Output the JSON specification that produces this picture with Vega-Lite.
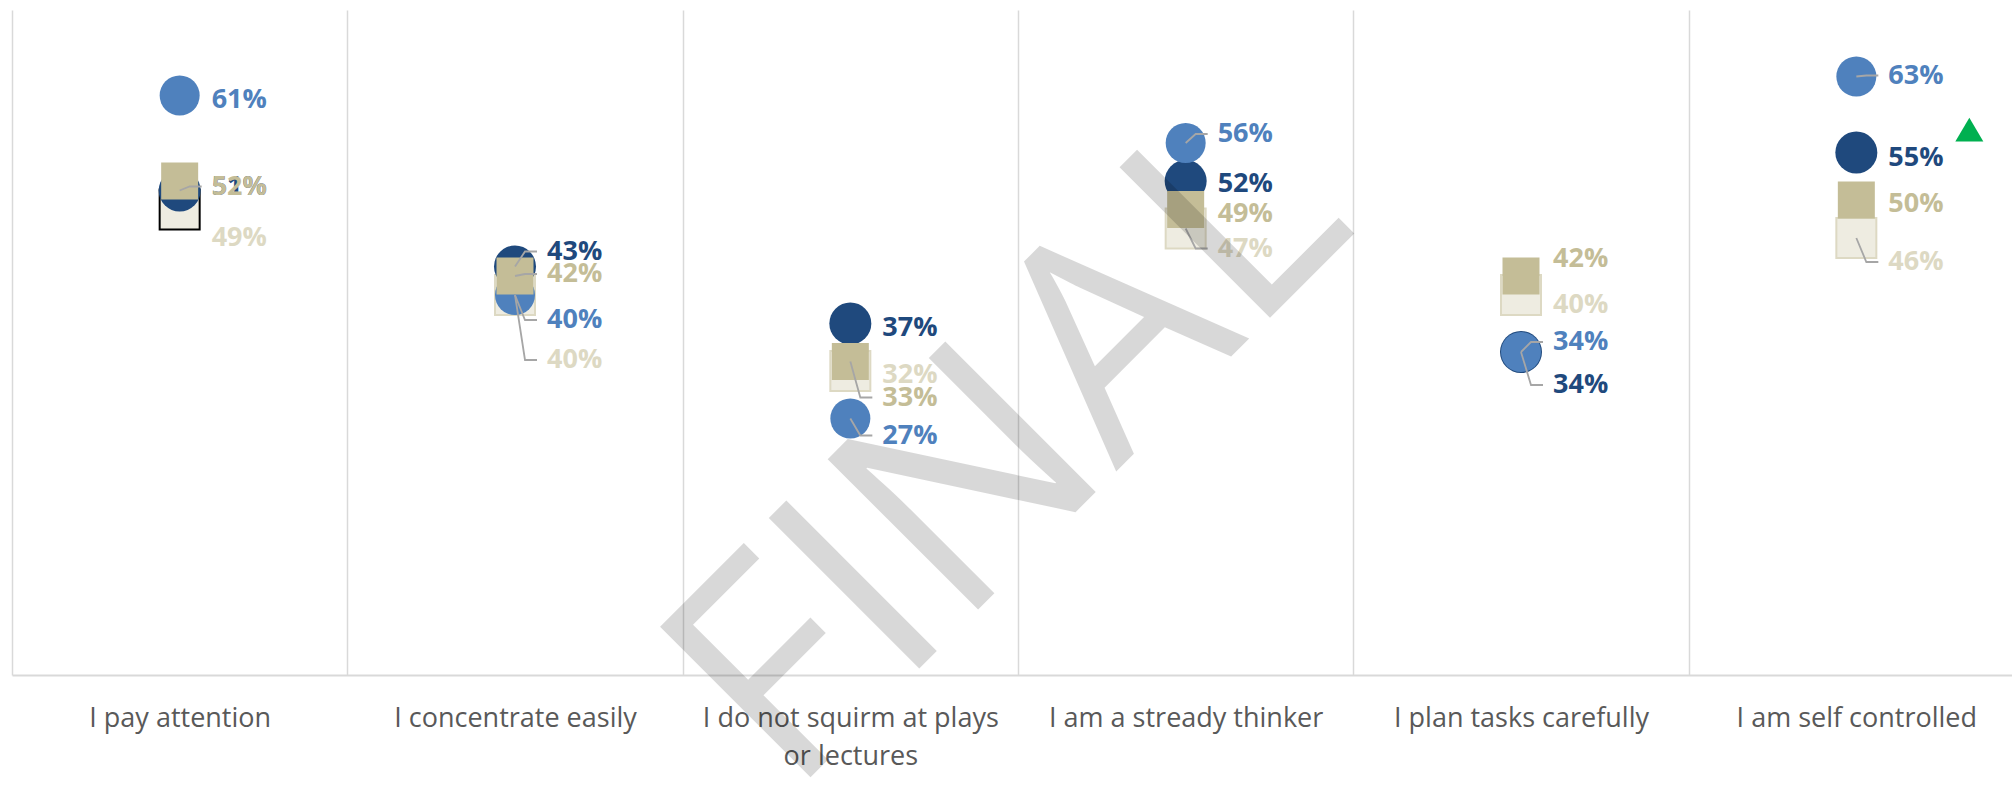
{
  "$schema": "https://vega.github.io/schema/vega-lite/v6.json",
  "width": 2000,
  "height": 665,
  "autosize": {"type": "none"},
  "padding": {"left": 12, "top": 10, "right": 0, "bottom": 113},
  "background": "white",
  "config": {"view": {"stroke": null}},
  "datasets": {
    "scores": [
      {"cat": "I pay attention", "series": "Series4", "value": 0.49},
      {"cat": "I concentrate easily", "series": "Series4", "value": 0.40},
      {"cat": "I do not squirm at plays or lectures", "series": "Series4", "value": 0.32},
      {"cat": "I am a stready thinker", "series": "Series4", "value": 0.47},
      {"cat": "I plan tasks carefully", "series": "Series4", "value": 0.40},
      {"cat": "I am self controlled", "series": "Series4", "value": 0.46},
      {"cat": "I pay attention", "series": "Series2", "value": 0.51},
      {"cat": "I concentrate easily", "series": "Series2", "value": 0.43},
      {"cat": "I do not squirm at plays or lectures", "series": "Series2", "value": 0.37},
      {"cat": "I am a stready thinker", "series": "Series2", "value": 0.52},
      {"cat": "I plan tasks carefully", "series": "Series2", "value": 0.34},
      {"cat": "I am self controlled", "series": "Series2", "value": 0.55},
      {"cat": "I pay attention", "series": "Series1", "value": 0.61},
      {"cat": "I concentrate easily", "series": "Series1", "value": 0.40},
      {"cat": "I do not squirm at plays or lectures", "series": "Series1", "value": 0.27},
      {"cat": "I am a stready thinker", "series": "Series1", "value": 0.56},
      {"cat": "I plan tasks carefully", "series": "Series1", "value": 0.34},
      {"cat": "I am self controlled", "series": "Series1", "value": 0.63},
      {"cat": "I pay attention", "series": "Series3", "value": 0.52},
      {"cat": "I concentrate easily", "series": "Series3", "value": 0.42},
      {"cat": "I do not squirm at plays or lectures", "series": "Series3", "value": 0.33},
      {"cat": "I am a stready thinker", "series": "Series3", "value": 0.49},
      {"cat": "I plan tasks carefully", "series": "Series3", "value": 0.42},
      {"cat": "I am self controlled", "series": "Series3", "value": 0.50}
    ],
    "flags": [
      {"cat": "I am self controlled", "value": 0.574}
    ],
    "watermark": [
      {"cat": "I am a stready thinker", "label": "FINAL"}
    ]
  },
  "data": {"name": "scores"},
  "layer": [
    {
      "transform": [{"filter": "datum.series === 'Series4'"}],
      "mark": {"type": "point", "shape": "square", "filled": true, "opacity": 1, "size": 1600, "fill": "#EEECE1", "strokeWidth": 2},
      "encoding": {
        "x": {
          "field": "cat",
          "type": "nominal",
          "scale": {
            "type": "band",
            "domain": ["I pay attention", "I concentrate easily", "I do not squirm at plays or lectures", "I am a stready thinker", "I plan tasks carefully", "I am self controlled"],
            "range": [0, 2012],
            "paddingInner": 0,
            "paddingOuter": 0
          },
          "axis": {
            "title": null,
            "domainColor": "#D9D9D9",
            "domainWidth": 2,
            "ticks": false,
            "tickSize": 0,
            "tickBand": "extent",
            "grid": true,
            "gridColor": "#D9D9D9",
            "gridWidth": 1.5,
            "labelFont": "Open Sans",
            "labelFontSize": 27,
            "labelColor": "#595959",
            "labelPadding": 30,
            "labelLineHeight": 38,
            "labelAngle": 0,
            "labelLimit": 600,
            "labelExpr": "datum.label == 'I do not squirm at plays or lectures' ? ['I do not squirm at plays', 'or lectures'] : datum.label"
          }
        },
        "y": {
          "field": "value",
          "type": "quantitative",
          "scale": {"domain": [0, 0.7], "nice": false, "zero": false},
          "axis": null
        },
        "stroke": {
          "condition": {"test": "datum.cat === 'I pay attention'", "value": "#000000"},
          "value": "#DDD9C3"
        }
      }
    },
    {
      "transform": [{"filter": "datum.series === 'Series2'"}],
      "mark": {"type": "point", "shape": "circle", "filled": true, "opacity": 1, "size": 1764, "fill": "#1F497D", "strokeWidth": 0},
      "encoding": {
        "x": {"field": "cat", "type": "nominal"},
        "y": {"field": "value", "type": "quantitative"}
      }
    },
    {
      "transform": [{"filter": "datum.series === 'Series1'"}],
      "mark": {"type": "point", "shape": "circle", "filled": true, "opacity": 1, "size": 1600, "fill": "#4F81BD", "strokeWidth": 0},
      "encoding": {
        "x": {"field": "cat", "type": "nominal"},
        "y": {"field": "value", "type": "quantitative"}
      }
    },
    {
      "transform": [{"filter": "datum.series === 'Series3'"}],
      "mark": {"type": "point", "shape": "square", "filled": true, "opacity": 1, "size": 1369, "fill": "#C4BD97", "strokeWidth": 0},
      "encoding": {
        "x": {"field": "cat", "type": "nominal"},
        "y": {"field": "value", "type": "quantitative"}
      }
    },
    {
      "transform": [{"filter": "[[0,1,0,0],[1,1,1,1],[1,0,1,0],[1,0,0,1],[1,1,0,0],[1,0,0,1]][indexof(['I pay attention','I concentrate easily','I do not squirm at plays or lectures','I am a stready thinker','I plan tasks carefully','I am self controlled'], datum.cat)][indexof(['Series1','Series2','Series3','Series4'], datum.series)] === 1"}],
      "mark": {
        "type": "point",
        "filled": false,
        "opacity": 1,
        "size": 4,
        "stroke": "#A6A6A6",
        "strokeWidth": 1.8,
        "shape": {"expr": "'M0,0L10,' + [[4,-4,6,28],[25,-15,-2,65],[17,4,36,4],[-9,3,4,20],[-10,33,-17,10],[-1,5,4,24]][indexof(['I pay attention','I concentrate easily','I do not squirm at plays or lectures','I am a stready thinker','I plan tasks carefully','I am self controlled'], datum.cat)][indexof(['Series1','Series2','Series3','Series4'], datum.series)] + 'L22,' + [[4,-4,6,28],[25,-15,-2,65],[17,4,36,4],[-9,3,4,20],[-10,33,-17,10],[-1,5,4,24]][indexof(['I pay attention','I concentrate easily','I do not squirm at plays or lectures','I am a stready thinker','I plan tasks carefully','I am self controlled'], datum.cat)][indexof(['Series1','Series2','Series3','Series4'], datum.series)]"}
      },
      "encoding": {
        "x": {"field": "cat", "type": "nominal"},
        "y": {"field": "value", "type": "quantitative"}
      }
    },
    {
      "mark": {
        "type": "text",
        "font": "Open Sans",
        "fontWeight": "bold",
        "fontSize": 27,
        "align": "left",
        "baseline": "middle",
        "dx": 32,
        "dy": {"expr": "[[4,-4,6,28],[25,-15,-2,65],[17,4,36,4],[-9,3,4,20],[-10,33,-17,10],[-1,5,4,24]][indexof(['I pay attention','I concentrate easily','I do not squirm at plays or lectures','I am a stready thinker','I plan tasks carefully','I am self controlled'], datum.cat)][indexof(['Series1','Series2','Series3','Series4'], datum.series)]"}
      },
      "encoding": {
        "x": {"field": "cat", "type": "nominal"},
        "y": {"field": "value", "type": "quantitative"},
        "text": {"field": "value", "type": "quantitative", "format": ".0%"},
        "color": {
          "field": "series",
          "type": "nominal",
          "scale": {"domain": ["Series1", "Series2", "Series3", "Series4"], "range": ["#4F81BD", "#1F497D", "#C4BD97", "#DDD9C3"]},
          "legend": null
        }
      }
    },
    {
      "data": {"name": "flags"},
      "mark": {"type": "point", "shape": "M0,-0.85L1,0.85L-1,0.85Z", "filled": true, "opacity": 1, "size": 784, "fill": "#00B050", "strokeWidth": 0, "xOffset": 113},
      "encoding": {
        "x": {"field": "cat", "type": "nominal"},
        "y": {"field": "value", "type": "quantitative"}
      }
    },
    {
      "data": {"name": "watermark"},
      "mark": {"type": "text", "font": "Open Sans", "fontSize": 298, "angle": 315, "align": "center", "baseline": "alphabetic", "fill": "#000000", "opacity": 0.15, "xOffset": -111},
      "encoding": {
        "x": {"field": "cat", "type": "nominal"},
        "y": {"datum": 0.1705, "type": "quantitative"},
        "text": {"field": "label", "type": "nominal"}
      }
    }
  ]
}
